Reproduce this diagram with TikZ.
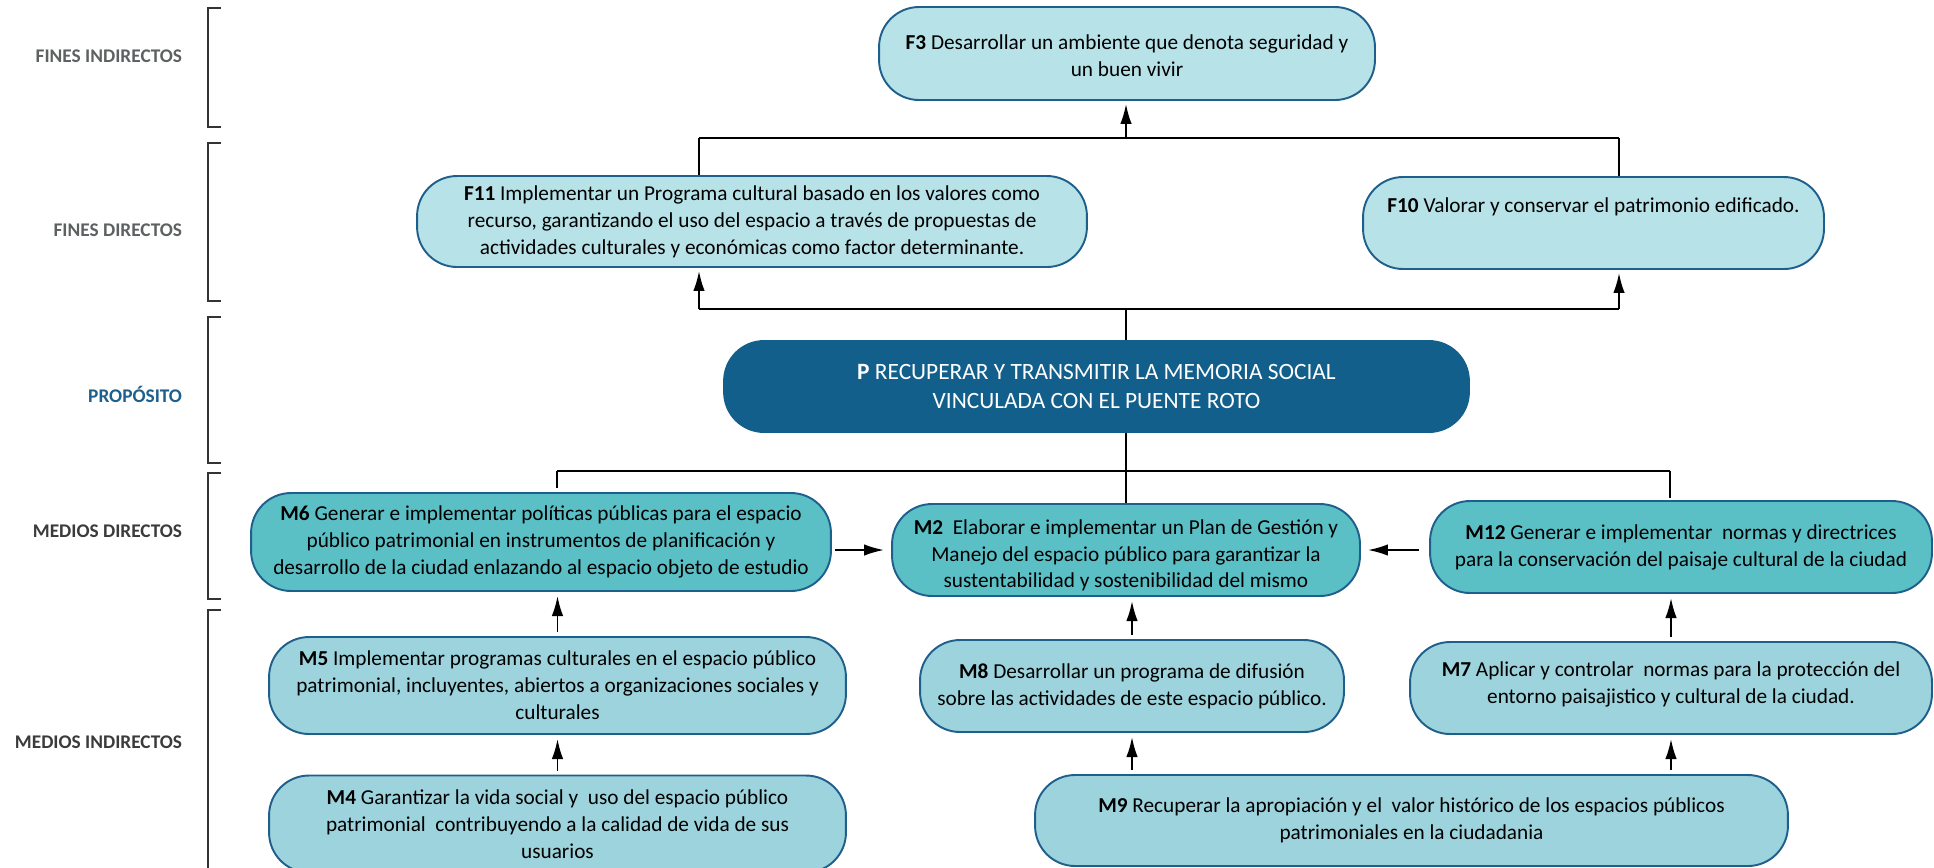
\documentclass[tikz,border=0pt]{standalone}
\usepackage{fontspec}
\setmainfont{Carlito}
\usetikzlibrary{arrows.meta}
\definecolor{edgeblue}{HTML}{1F5F8C}
\definecolor{finfill}{HTML}{B7E2E8}
\definecolor{mdirfill}{HTML}{5BBFC6}
\definecolor{mindfill}{HTML}{9CD3DC}
\definecolor{propfill}{HTML}{135F8C}
\definecolor{lblgrey}{HTML}{5E6162}
\definecolor{lbldark}{HTML}{3B3B3B}

\begin{document}
\begin{tikzpicture}[x=0.02cm,y=-0.02cm,line width=1.1pt,>={Latex[length=0.4cm,width=0.23cm]},
  box/.style={draw=edgeblue,line width=1.1pt,rounded corners=0.8cm,align=center,inner sep=0pt,
    font=\fontsize{12.1pt}{15.3pt}\selectfont},
  fin/.style={box,fill=finfill},
  mdir/.style={box,fill=mdirfill},
  mind/.style={box,fill=mindfill},
  lbl/.style={anchor=east,inner sep=0pt,text=lblgrey,font=\fontsize{11pt}{13pt}\selectfont\bfseries},
  bus/.style={line width=1.5pt},
  brk/.style={line width=0.7pt,black!80}]
  \useasboundingbox (0,0) rectangle (1934,867);

  % level labels and brackets
  \node[lbl] (lfi) at (183,56) {FINES INDIRECTOS};
  \node[lbl] (lfd) at (183,230) {FINES DIRECTOS};
  \node[lbl,text=edgeblue] (lp) at (183,394) {PROPÓSITO};
  \node[lbl,text=lbldark] (lmd) at (183,531) {MEDIOS DIRECTOS};
  \node[lbl,text=lbldark] (lmi) at (183,742) {MEDIOS INDIRECTOS};
  \draw[brk] (221,8) -- (208,8) -- (208,127) -- (221,127);
  \draw[brk] (221,143) -- (208,143) -- (208,301) -- (221,301);
  \draw[brk] (221,317) -- (208,317) -- (208,463) -- (221,463);
  \draw[brk] (221,473) -- (208,473) -- (208,599) -- (221,599);
  \draw[brk] (221,610) -- (208,610) -- (208,880);

  % fines
  \node[fin,minimum width=9.92cm,minimum height=1.86cm] (F3) at (1127,53.5)
    {\rule{0pt}{11pt}\textbf{F3} Desarrollar un ambiente que denota seguridad y\\un buen vivir};
  \node[fin,minimum width=13.4cm,minimum height=1.82cm] (F11) at (752,221.5)
    {\textbf{F11} Implementar un Programa cultural basado en los valores como\\
     recurso, garantizando el uso del espacio a través de propuestas de\\
     actividades culturales y económicas como factor determinante.};
  \node[fin,minimum width=9.22cm,minimum height=1.84cm] (F10) at (1593.5,223)
    {\textbf{F10} Valorar y conservar el patrimonio edificado.\\\strut};

  % proposito
  \node[box,fill=propfill,draw=propfill,text=white,minimum width=14.9cm,minimum height=1.82cm,
    font=\fontsize{13.3pt}{17pt}\selectfont] (P) at (1096.5,386.5)
    {\textbf{P} RECUPERAR Y TRANSMITIR LA MEMORIA SOCIAL\\VINCULADA CON EL PUENTE ROTO};

  % medios
  \node[mdir,minimum width=11.6cm,minimum height=1.96cm] (M6) at (541,542)
    {\textbf{M6} Generar e implementar políticas públicas para el espacio\\
     público patrimonial en instrumentos de planificación y\\
     desarrollo de la ciudad enlazando al espacio objeto de estudio};
  \node[mdir,minimum width=9.36cm,minimum height=1.84cm] (M2) at (1126,550)
    {\rule{0pt}{14.5pt}\textbf{M2}\ \ Elaborar e implementar un Plan de Gestión y\\
     Manejo del espacio público para garantizar la\\
     sustentabilidad y sostenibilidad del mismo};
  \node[mdir,minimum width=10.04cm,minimum height=1.84cm] (M12) at (1681,547)
    {\textbf{M12} Generar e implementar\ \ normas y directrices\\
     para la conservación del paisaje cultural de la ciudad};
  \node[mind,minimum width=11.54cm,minimum height=1.94cm] (M5) at (557.5,685.5)
    {\textbf{M5} Implementar programas culturales en el espacio público\\
     patrimonial, incluyentes, abiertos a organizaciones sociales y\\
     culturales};
  \node[mind,minimum width=11.54cm,minimum height=1.94cm] (M4) at (557.5,824)
    {\textbf{M4} Garantizar la vida social y\ \ uso del espacio público\\
     patrimonial\ \ contribuyendo a la calidad de vida de sus\\
     usuarios};
  \node[mind,minimum width=8.48cm,minimum height=1.84cm] (M8) at (1132,686)
    {\textbf{M8} Desarrollar un programa de difusión\\
     sobre las actividades de este espacio público.};
  \node[mind,minimum width=10.44cm,minimum height=1.84cm] (M7) at (1671,688)
    {\textbf{M7} Aplicar y controlar\ \ normas para la protección del\\
     entorno paisajistico y cultural de la ciudad.\rule[-6pt]{0pt}{0pt}};
  \node[mind,minimum width=15.06cm,minimum height=1.82cm] (M9) at (1411.5,820.5)
    {\textbf{M9} Recuperar la apropiación y el\ \ valor histórico de los espacios públicos\\
     patrimoniales en la ciudadania};

  % connectors between fines and proposito
  \coordinate (bu) at (1126,138);
  \coordinate (b11) at (699,138);
  \coordinate (b10) at (1619,138);
  \coordinate (pu) at (1126,309);
  \coordinate (a11) at (699,309);
  \coordinate (a10) at (1619,309);
  \draw[bus] (b11) -- (b10);
  \draw (F11.north -| b11) -- (b11);
  \draw (F10.north -| b10) -- (b10);
  \draw[->,shorten >=1.7pt] (bu) -- (F3.south -| bu);
  \draw[bus] (a11) -- (a10);
  \draw (P.north -| pu) -- (pu);
  \draw[->,shorten >=1.7pt] (a11) -- (F11.south -| a11);
  \draw[->,shorten >=1.7pt] (a10) -- (F10.south -| a10);

  % connectors between proposito and medios
  \coordinate (cu) at (1126,471);
  \coordinate (c6) at (557,471);
  \coordinate (c12) at (1670,471);
  \draw[bus] (c6) -- (c12);
  \draw (P.south -| cu) -- (M2.north -| cu);
  \draw (c6) -- ([yshift=2.3pt]M6.north -| c6);
  \draw (c12) -- ([yshift=1.1pt]M12.north -| c12);
  \draw[->,shorten <=1.7pt,shorten >=4pt] (M6.east |- M2.west) -- (M2.west);
  \draw[->,shorten <=5.7pt,shorten >=4pt] (M12.west |- M2.east) -- (M2.east);
  \draw[->,shorten <=2.3pt,shorten >=2.3pt] (M5.north) -- (M6.south -| M5.north);
  \draw[->,shorten <=2.3pt,shorten >=2.3pt] (M4.north) -- (M5.south -| M4.north);
  \draw[->,shorten <=2.3pt,shorten >=2.3pt] (M8.north) -- (M2.south -| M8.north);
  \draw[->,shorten <=2.3pt,shorten >=2.3pt] (M9.north -| M8.south) -- (M8.south);
  \draw[->,shorten <=2.3pt,shorten >=2.3pt] (M7.north) -- (M12.south -| M7.north);
  \draw[->,shorten <=2.3pt,shorten >=2.3pt] (M9.north -| M7.south) -- (M7.south);
\end{tikzpicture}
\end{document}
